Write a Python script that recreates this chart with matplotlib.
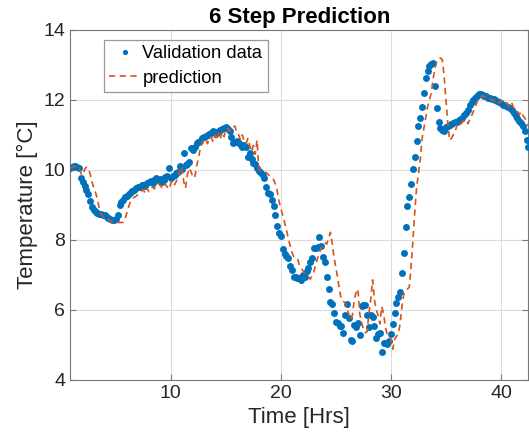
import numpy as np
import matplotlib
matplotlib.use("Agg")
import matplotlib.pyplot as plt

plt.rcParams['font.family'] = ['Liberation Sans', 'DejaVu Sans']
plt.rcParams['lines.scale_dashes'] = False

# time axis: 10-minute samples, hours
t_start = 0.8333
t_step = 1.0 / 6.0

validation = [
    10.05, 10.08, 10.1, 10.1, 10.08, 10.05,
    9.78, 9.65, 9.55, 9.42, 9.3, 9.12,
    8.95, 8.85, 8.8, 8.76, 8.74, 8.73,
    8.72, 8.7, 8.66, 8.63, 8.6, 8.57,
    8.58, 8.6, 8.72, 9.0, 9.08, 9.14,
    9.22, 9.26, 9.3, 9.36, 9.4, 9.44,
    9.48, 9.52, 9.5, 9.56, 9.58, 9.55,
    9.62, 9.66, 9.68, 9.64, 9.72, 9.76,
    9.7, 9.74, 9.66, 9.72, 9.8, 9.82,
    10.05, 9.78, 9.82, 9.86, 9.9, 9.95,
    10.1, 10.02, 10.48, 10.14, 10.18, 10.22,
    10.62, 10.57, 10.65, 10.76, 10.8, 10.84,
    10.9, 10.95, 10.97, 11.0, 11.02, 11.05,
    11.1, 11.08, 11.07, 11.12, 11.14, 11.17,
    11.19, 11.24, 11.18, 11.1, 10.95, 10.78,
    10.8, 10.82, 10.76, 10.72, 10.67, 10.7,
    10.67, 10.38, 10.48, 10.3, 10.19, 10.16,
    10.05, 9.98, 9.92, 9.85, 9.76, 9.52,
    9.33, 9.3, 9.14, 8.97, 8.71, 8.4,
    8.21, 8.1, 7.73, 7.6, 7.54, 7.48,
    7.26, 7.14, 6.95, 6.93, 6.92, 6.9,
    6.86, 7.0, 6.95, 7.1, 7.2, 7.38,
    7.48, 7.76, 7.78, 7.81, 8.08, 7.83,
    7.52, 7.38, 6.93, 6.59, 6.24, 6.17,
    5.9, 5.67, 5.62, 5.54, 5.54, 5.33,
    5.86, 6.17, 5.76, 5.14, 5.1, 5.57,
    5.52, 5.64, 5.29, 6.12, 6.14, 6.14,
    5.86, 5.5, 5.86, 5.81, 5.54, 5.19,
    5.3, 5.33, 4.81, 5.07, 5.05, 5.03,
    5.1, 5.3, 5.6, 5.9, 6.21, 6.36,
    6.5, 7.07, 7.64, 8.38, 8.97, 9.24,
    9.6, 10.03, 10.38, 10.84, 11.26, 11.48,
    11.81, 12.19, 12.62, 12.84, 12.97, 13.03,
    13.05, 12.4, 11.76, 11.38, 11.19, 11.14,
    11.12, 11.24, 11.27, 11.29, 11.31, 11.33,
    11.36, 11.38, 11.42, 11.45, 11.48, 11.57,
    11.62, 11.7, 11.86, 11.93, 12.0, 12.05,
    12.1, 12.17, 12.16, 12.14, 12.12, 12.1,
    12.07, 12.05, 12.03, 12.02, 12.0, 11.98,
    11.95, 11.9, 11.86, 11.86, 11.84, 11.81,
    11.78, 11.71, 11.62, 11.55, 11.48, 11.4,
    11.33, 11.25, 11.1, 10.85, 10.67,
]

prediction = [
    10.05, 10.08, 10.1, 10.1, 10.08, 10.05,
    9.9, 9.85, 10.02, 10.08, 10.05, 9.88,
    9.65, 9.5, 9.35, 9.15, 8.9, 8.72,
    8.68, 8.65, 8.62, 8.58, 8.55, 8.5,
    8.5, 8.5, 8.5, 8.5, 8.5, 8.5,
    8.6, 8.78, 8.95, 9.1, 9.17, 9.22,
    9.25, 9.3, 9.34, 9.4, 9.44, 9.33,
    9.48, 9.38, 9.45, 9.52, 9.46, 9.55,
    9.62, 9.57, 9.5, 9.62, 9.58, 9.52,
    9.45, 9.62, 9.7, 9.58, 9.68, 9.8,
    10.0, 10.1, 9.67, 9.48, 9.85, 10.05,
    9.95, 9.8, 9.78, 10.1, 10.33, 10.6,
    10.76, 10.85, 10.9, 10.75, 10.88, 10.95,
    10.8, 11.0, 10.85, 11.05, 10.9, 11.1,
    10.95, 11.15, 11.19, 11.1, 11.2, 11.24,
    11.25, 11.05, 11.0, 10.85, 11.0, 10.8,
    10.75, 10.9, 10.7, 10.52, 10.7, 10.45,
    10.85, 10.0, 9.98, 9.96, 9.95, 9.92,
    9.88, 9.82, 9.78, 9.72, 9.6, 9.4,
    9.1, 8.9, 8.7, 8.5, 8.3, 8.05,
    7.85, 7.65, 7.52, 7.5, 7.48, 7.3,
    7.22, 7.12, 7.02, 6.97, 6.95, 6.88,
    6.97, 7.1, 7.3, 7.48, 7.62, 7.78,
    7.82, 7.92, 7.88, 8.05, 8.22, 7.9,
    7.5, 7.2, 6.9, 6.55, 6.3, 6.25,
    6.2, 6.05, 5.88, 5.72, 5.85, 6.3,
    6.5, 6.6, 5.9, 5.65, 5.45, 5.35,
    5.38, 5.9, 6.3, 6.86, 6.3, 6.0,
    5.85, 5.6, 6.1, 5.9, 5.5, 5.3,
    5.25, 5.15, 4.88, 5.15, 5.25, 5.3,
    5.6, 6.1, 6.45, 6.55, 6.6, 6.65,
    7.25, 8.0, 8.8, 9.5, 9.9, 10.3,
    10.9, 11.2, 11.5, 11.8, 12.0, 12.2,
    12.6, 12.9, 13.1, 13.18, 13.2, 13.15,
    12.7, 12.0, 11.35, 10.85, 10.9, 11.0,
    11.1, 11.28, 11.35, 11.3, 11.38, 11.42,
    11.45, 11.32, 11.45, 11.55, 11.68, 11.8,
    11.95, 12.05, 12.1, 12.12, 12.1, 12.08,
    12.1, 12.05, 12.0, 11.98, 12.02, 11.95,
    11.92, 11.98, 11.88, 11.9, 11.9, 11.85,
    11.78, 11.9, 11.75, 11.72, 11.68, 11.58,
    11.67, 11.55, 11.48, 11.38, 11.25,
]

x_ticks = [10, 20, 30, 40]
y_ticks = [4, 6, 8, 10, 12, 14]

t = t_start + t_step * np.arange(len(validation))

fig = plt.figure(figsize=(5.29, 4.42), dpi=100)
ax = fig.add_axes([0.1323, 0.1403, 0.8667, 0.7919])

blue = '#0072BD'
orange = '#D95319'

ax.plot(t, validation, linestyle='none', marker='o', markersize=5.0,
        markeredgewidth=0, color=blue, label='Validation data', zorder=3)
ln, = ax.plot(t, prediction, linestyle='--', color=orange, linewidth=1.2,
              label='prediction', zorder=4)
ln.set_dashes([4.5, 3.2])

ax.set_xlim(t[0], t[-1])
ax.set_ylim(4, 14)
ax.set_xticks(x_ticks)
ax.set_yticks(y_ticks)
ax.grid(True, color='#dcdcdc', linewidth=0.8)
ax.set_axisbelow(True)

for sp in ax.spines.values():
    sp.set_color('#777777')
    sp.set_linewidth(0.8)
ax.tick_params(direction='in', length=4, width=0.8, colors='#777777',
               labelcolor='#262626', labelsize=14, top=False, right=True)

ax.set_xlabel('Time [Hrs]', fontsize=16, color='#262626', labelpad=4)
ax.set_ylabel('Temperature [°C]', fontsize=16, color='#262626', labelpad=4)
ax.set_title('6 Step Prediction', fontsize=16, fontweight='bold', pad=5)

leg = ax.legend(loc='upper left', bbox_to_anchor=(0.074, 0.972),
                fontsize=13.2, frameon=True, fancybox=False,
                handlelength=1.65, handletextpad=0.15, borderpad=0.3,
                labelspacing=0.4, borderaxespad=0, markerscale=0.75)
leg.get_frame().set_edgecolor('#808080')
leg.get_frame().set_linewidth(0.9)
for text in leg.get_texts():
    text.set_color('#000000')

fig.savefig('out.png', dpi=100)
